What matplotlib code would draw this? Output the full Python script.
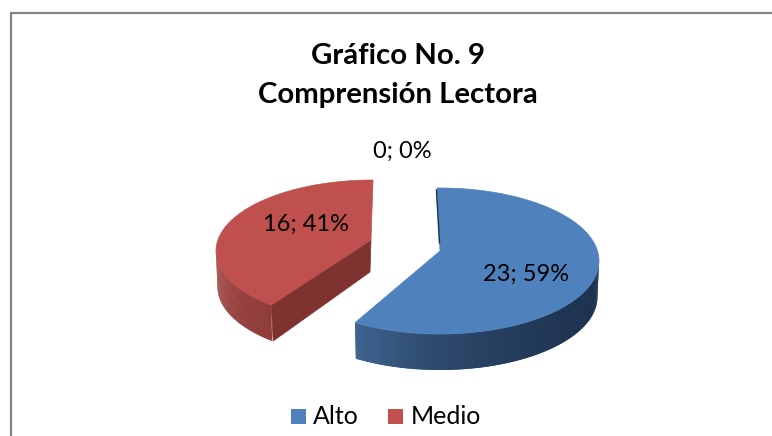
import matplotlib
matplotlib.use("Agg")
import matplotlib.pyplot as plt
import numpy as np
from matplotlib.patches import Polygon, Rectangle

plt.rcParams['font.family'] = ['Lato', 'DejaVu Sans']

title_lines = ["Gráfico No. 9", "Comprensión Lectora"]
categories = ["Alto", "Medio", "Bajo"]
values = [23, 16, 0]
percents = [59, 41, 0]
colors = ["#4f81bd", "#c0504d"]


def rim(t, cx, cy, rx, ry, drop=0.0):
    # t is degrees clockwise from 12 o'clock
    t = np.radians(t)
    return np.column_stack([cx + rx * np.sin(t), cy - ry * np.cos(t) + drop])


def mix(a, b, f):
    a = np.array(matplotlib.colors.to_rgb(a))
    b = np.array(matplotlib.colors.to_rgb(b))
    return a + (b - a) * f


def draw_wall(ax, t0, t1, geo, depth, c0, c1, power=1.0):
    ts = np.linspace(t0, t1, 120)
    top = rim(ts, *geo)
    bot = rim(ts, geo[0], geo[1], geo[2] * 0.99, geo[3], depth)
    for i in range(len(ts) - 1):
        j = min(i + 2, len(ts) - 1)
        q = [top[i], top[j], bot[j], bot[i]]
        f = (i / (len(ts) - 2)) ** power
        ax.add_patch(Polygon(q, closed=True, fc=mix(c0, c1, f), ec="none"))


fig = plt.figure(figsize=(7.72, 4.36), dpi=100)
ax = fig.add_axes([0, 0, 1, 1])
ax.set_xlim(0, 772)
ax.set_ylim(436, 0)
ax.axis("off")

# chart frame, only the top and left edges are in the picture
ax.plot([11, 11, 772], [436, 13, 13], color="#868686", lw=1.6, solid_joinstyle="miter")

total = sum(values)
blue_end = 360.0 * values[0] / total
depth = 36

# blue slice
geo = (440, 261, 159, 73)
apex = np.array([440, 251])
draw_wall(ax, 90, blue_end, geo, depth, "#1e3350", "#3f648f", power=2.5)
ts = np.linspace(-1, blue_end, 200)
ax.add_patch(Polygon(np.vstack([apex, rim(ts, *geo)]), closed=True, fc=colors[0], ec=colors[0], lw=0.5))
ax.plot([436.5, 439.5], [190, 243], color="#1f3552", lw=1.1)

# red slice, the rim is squeezed a bit by the perspective
geo = (373, 251, 157, 71)
apex = np.array([371, 240])
red_start = 360 - (360 - blue_end) * 0.945
tip = rim(np.array([red_start]), *geo)[0]
ax.add_patch(Polygon([apex, tip, tip + [2, depth], apex + [-1, 32]], closed=True, fc="#7f3331", ec="#7f3331", lw=0.5))
draw_wall(ax, red_start, 270, geo, depth, "#8e3d3a", "#a54c49")
ts = np.linspace(red_start, 360, 200)
ax.add_patch(Polygon(np.vstack([apex, rim(ts, *geo)]), closed=True, fc=colors[1], ec=colors[1], lw=0.5))

# text
ax.text(398, 55.5, title_lines[0], ha="center", va="center", fontsize=21.2, fontweight="bold", color="black")
ax.text(398, 95, title_lines[1], ha="center", va="center", fontsize=21.2, fontweight="bold", color="black")

label_pos = [(526, 274), (306, 224), (402, 151)]
for v, p, (x, y) in zip(values, percents, label_pos):
    ax.text(x, y, "%d; %d%%" % (v, p), ha="center", va="center", fontsize=17, color="black")

# legend
ax.add_patch(Rectangle((291, 409), 15, 15, fc=colors[0], ec="none"))
ax.text(313, 416, categories[0], ha="left", va="center", fontsize=18)
ax.add_patch(Rectangle((388, 409), 15, 15, fc=colors[1], ec="none"))
ax.text(411, 416, categories[1], ha="left", va="center", fontsize=18)

fig.savefig("out.png", dpi=100)
